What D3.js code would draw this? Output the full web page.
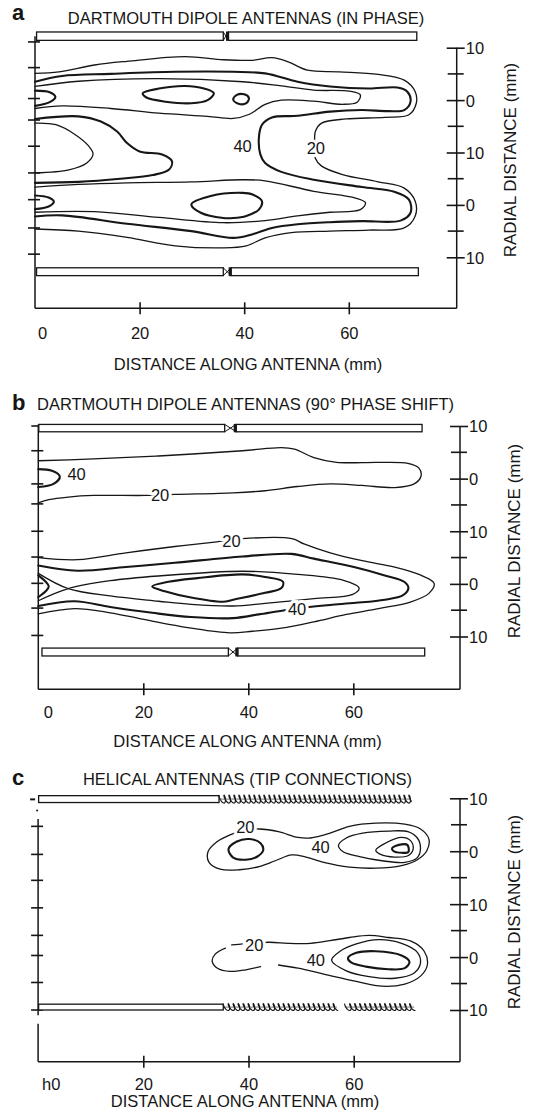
<!DOCTYPE html>
<html>
<head>
<meta charset="utf-8">
<script src="https://cdn.jsdelivr.net/npm/d3@7"></script>
<style>
  body { margin: 0; background: #fff; }
  svg { display: block; font-family: "Liberation Sans", Arial, Helvetica, sans-serif; }
</style>
</head>
<body>
<svg id="fig" width="538" height="1116"></svg>
<script>
// axis ticks
const xTickValues = [0, 20, 40, 60];
const xTickTextAB = ["0", "20", "40", "60"];
const xTickTextC = ["h0", "20", "40", "60"];
const radialMajor = [0, 10, 20, 30, 40];
const radialText = ["10", "0", "10", "0", "10"];
const radialMinor = [5, 15, 25, 35];

// hand drawn ticks on the left edge (radial units, counted from the top "10")
const leftTicksA = [-1.1, 3.8, 9.7, 13.8, 18.8, 23.9, 29.0, 34.4, 39.4];
const leftTicksB = [0, 4.7, 11.0, 14.8, 20.0, 24.9, 29.9, 34.6, 39.8];
const leftTicksC = [5.3, 10.6, 15.5, 20.7, 25.9, 29.7, 34.8, 40];
const leftMarksC = [0.2, 2.3];   // stray dash and dot above the axis in panel c

// ---- panel a contours: [mm along antenna, radial position] ----
const a20 = [[0,4.9],[4.6,4.6],[11.4,3.3],[17.6,2.6],[28.7,1.7],[36.0,2.3],[41.6,2.4],[45.3,1.9],[48.4,2.7],[52.1,4.3],[58.2,4.6],[65.6,5.1],[70.6,6.2],[72.7,8.4],[72.9,10.6],[71.5,12.8],[66.9,13.3],[59.5,13.6],[54.8,14.4],[53.6,16.0],[53.5,18.6],[53.6,21.1],[54.8,22.6],[58.8,24.2],[65.6,25.6],[70.6,26.8],[72.7,29.3],[72.7,32.1],[70.6,34.4],[63.8,34.8],[56.4,35.0],[49.0,35.3],[44.0,36.3],[40.4,37.8],[36.0,38.2],[26.8,37.8],[17.6,36.2],[8.3,35.0],[0,34.6]];
const a40 = [[0,6.5],[5.2,5.4],[14.5,5.0],[26.8,4.6],[37.9,4.6],[44.0,4.9],[50.2,6.5],[56.4,7.4],[63.8,7.8],[69.3,7.6],[71.2,8.4],[71.8,10.3],[70.6,11.9],[67.5,12.1],[62.5,11.9],[56.4,12.2],[50.2,13.0],[45.3,13.3],[43.4,14.7],[42.8,17.3],[43.1,20.4],[44.0,22.0],[47.1,23.7],[53.3,25.2],[62.5,26.6],[68.7,27.5],[71.5,29.0],[71.8,31.5],[69.9,33.0],[62.5,33.1],[56.4,33.3],[50.2,33.7],[45.3,34.4],[41.6,35.6],[37.9,36.3],[29.9,35.0],[17.6,33.6],[5.2,32.0],[0,32.2]];
const a60Up = [[0,7.4],[8.3,6.4],[23.7,5.9],[39.7,6.5],[47.1,7.3],[53.3,8.1],[60.1,8.3],[62.2,9.0],[61.6,10.4],[58.8,10.8],[53.3,10.2],[47.1,10.0],[44.0,10.8],[41.0,12.7],[37.9,13.5],[33.0,13.1],[23.7,12.5],[14.5,11.6],[5.2,11.1],[0,11.6]];
const a60Low = [[0,26.6],[8.3,26.1],[17.6,25.8],[29.9,25.6],[39.7,25.2],[44.0,25.4],[53.3,27.4],[61.3,28.7],[63.2,29.6],[62.2,30.9],[56.4,31.4],[50.2,32.1],[44.0,33.0],[36.0,33.4],[23.7,32.4],[11.4,31.3],[0,31.4]];
const aIslandUp = [[20.6,8.7],[23.7,7.8],[28.7,7.3],[32.3,7.8],[34.2,8.7],[33.0,10.0],[29.9,10.6],[25.0,10.3],[21.3,9.5]];
const aIslandSmall = [[37.9,9.9],[38.6,9.0],[40.0,8.9],[40.9,9.6],[40.4,10.6],[38.9,10.7]];
const aIslandLow = [[29.9,29.9],[33.6,28.3],[39.7,27.7],[41.6,28.0],[43.4,29.3],[42.8,30.9],[40.4,32.1],[37.9,32.5],[36.0,32.5],[31.7,31.5]];
const aWedgeUp = [[0,8.2],[2.8,8.5],[3.9,9.4],[2.8,10.4],[0,11.1]];
const aWedgeLow = [[0,28.2],[2.6,28.6],[3.6,29.4],[2.6,30.3],[0,30.8]];
const aTongueOuter = [[0,13.6],[8.3,13.1],[12.6,14.1],[15.7,16.0],[17.6,18.2],[20.0,19.8],[24.3,20.4],[26.2,21.7],[25.6,23.3],[22.5,24.3],[16.3,25.0],[8.3,25.6],[0,25.8]];
const aTongueInner = [[0,14.4],[4.0,14.7],[7.7,16.6],[10.2,18.7],[11.1,20.3],[9.9,22.0],[6.5,23.3],[0,23.9]];
const aLabels = [["40", 39.7, 18.8], ["20", 53.7, 19.2]];

// ---- panel b contours ----
const b20Up = [[0,6.6],[9.4,6.3],[22.9,5.7],[38.9,4.7],[46.3,4.1],[48.8,4.4],[52.5,6.0],[56.8,6.9],[64.8,6.9],[70.4,7.1],[72.5,8.0],[72.9,9.5],[71.6,11.0],[67.9,11.7],[61.7,11.3],[55.6,11.0],[49.4,11.5],[43.2,12.3],[37.1,12.7],[26.0,13.0],[20.4,13.2],[10.6,13.2],[5.7,13.5],[2.0,14.0],[0,14.6]];
const bWedgeUp = [[0,8.2],[2.6,8.5],[4.1,9.6],[2.9,11.0],[0,11.6]];
const b20Low = [[0,25.0],[7.5,25.4],[16.7,24.1],[26.0,22.9],[34.0,22.0],[38.9,21.4],[48.3,21.4],[50.6,22.4],[55.6,24.1],[61.7,25.6],[67.9,26.8],[72.5,28.2],[75.4,29.9],[74.4,31.8],[71.0,33.4],[64.8,34.7],[58.7,35.8],[52.5,37.2],[46.3,38.4],[40.8,39.0],[36.5,39.3],[29.1,38.4],[19.8,36.7],[13.7,35.5],[6.9,34.7],[0,35.7]];
const b40Low = [[0,26.5],[7.5,27.5],[16.7,26.8],[26.0,26.0],[38.9,24.8],[48.2,24.3],[52.5,25.2],[60.5,26.9],[66.0,28.4],[69.7,29.6],[70.5,30.8],[69.4,32.2],[66.0,33.0],[60.5,33.6],[55.6,34.0],[51.6,34.4],[46.9,35.0],[42.0,35.8],[37.1,36.5],[29.1,36.3],[21.7,35.5],[13.7,34.4],[6.9,33.3],[0,34.2]];
const b60Low = [[0,28.0],[5.7,30.9],[13.7,32.3],[22.9,33.3],[29.1,33.9],[37.1,34.2],[43.2,33.7],[52.5,32.8],[59.9,32.0],[61.1,30.8],[58.0,29.3],[49.4,28.2],[38.9,27.6],[22.9,28.5],[13.7,29.4],[5.7,30.9],[0,33.2]];
const bIslandLow = [[21.7,30.5],[24.8,29.6],[30.3,28.9],[38.9,28.2],[43.2,28.7],[46.6,29.6],[46.3,30.8],[43.2,31.7],[37.1,33.0],[35.2,33.4],[29.1,32.6],[24.1,31.4]];
const bWedgeLow = [[0,28.4],[1.4,29.6],[2.0,30.5],[1.4,31.4],[0,32.5]];
const bLabels = [["40", 7.3, 9.1], ["20", 23.2, 13.2], ["20", 36.8, 21.8], ["40", 49.3, 34.7]];

// ---- panel c contours ----
const c20Up = [[42.0,5.8],[45.7,6.3],[49.4,7.4],[51.8,7.5],[55.5,6.6],[59.2,5.3],[64.2,4.7],[69.7,4.9],[72.7,5.8],[74.3,7.7],[73.9,9.9],[72.1,11.6],[69.1,12.7],[64.2,13.2],[59.2,13.0],[54.3,12.1],[50.6,11.0],[48.2,10.7],[45.1,11.8],[42.0,12.9],[38.3,13.5],[34.6,13.4],[32.5,12.1],[32.3,10.1],[34.0,8.2],[36.5,6.9],[39.3,6.0]];
const cIslandUp = [[36.2,9.6],[37.7,8.2],[40.2,7.7],[42.3,8.5],[42.8,9.8],[41.7,11.0],[39.5,11.6],[37.1,11.2]];
const c40Up = [[57.1,8.9],[58.6,7.5],[61.7,6.6],[66.6,6.2],[70.3,6.3],[72.1,7.5],[72.7,9.4],[72.1,11.2],[69.7,12.1],[65.4,11.8],[61.1,11.0],[58.0,10.1]];
const c60Up = [[64.2,9.8],[66.0,8.5],[69.1,7.4],[70.8,8.0],[71.3,9.6],[70.4,10.8],[67.8,11.1],[65.1,10.6]];
const c80Up = [[67.3,9.4],[69.1,8.7],[70.2,8.8],[70.4,10.1],[69.1,10.3],[67.5,9.9]];
const c20LowA = [[35.6,28.3],[33.7,29.4],[33.1,30.8],[34.1,32.1],[36.5,32.7],[39.5,32.4],[42.3,31.8]];
const c20LowB = [[36.8,27.7],[43.9,27.2],[47.5,27.4],[51.8,27.4],[55.5,26.9],[59.2,26.3],[62.9,25.9],[66.6,26.3],[70.9,27.0],[73.4,28.9],[74.0,31.5],[72.7,33.6],[69.7,35.1],[65.4,35.5],[60.5,34.6],[54.3,33.2],[49.4,32.1],[45.7,31.5]];
const c40Low = [[55.8,30.6],[57.4,28.9],[60.5,27.5],[64.8,26.7],[69.1,27.4],[72.1,29.1],[72.7,31.1],[71.5,33.0],[67.8,34.0],[62.9,33.7],[58.6,32.6]];
const c60Low = [[58.9,30.2],[60.5,29.2],[64.2,28.9],[69.1,29.7],[70.6,30.9],[69.7,32.1],[66.6,32.3],[62.3,31.8],[59.5,31.0]];
const cLabels = [["20", 39.4, 5.5], ["40", 53.7, 9.3], ["20", 41.1, 27.7], ["40", 52.8, 30.6]];

// ---- antennas: [start mm, end mm] pieces and radial extent ----
const aAntennaTop = [[0.3, 36.0], [37.0, 73.0]];
const aAntennaTopR = [-3.0, -1.4];
const aAntennaBot = [[0.3, 36.0], [37.5, 73.3]];
const aAntennaBotR = [42.0, 43.5];
const bAntennaTop = [[0.1, 35.5], [37.7, 73.1]];
const bAntennaTopR = [-0.3, 1.1];
const bAntennaBot = [[0.7, 36.2], [38.0, 73.6]];
const bAntennaBotR = [42.2, 43.7];
const cAntennaTopRod = [0.1, 34.4];
const cAntennaTopHelix = [[34.4, 70.9]];
const cAntennaTopR = [-0.5, 0.8];
const cAntennaBotRod = [0.1, 35.2];
const cAntennaBotHelix = [[35.2, 56.8], [58.3, 71.5]];
const cAntennaBotR = [38.9, 40.0];

const ink = "#161616";
const fs = 16.5;
const svg = d3.select("#fig");

function drawPanel(p) {
  const x = d3.scaleLinear().domain([0, 80]).range([p.x0, p.x80]);
  const y = d3.scaleLinear().domain([0, 40]).range([p.y0, p.y40]);
  const g = svg.append("g");
  const openLine = d3.line().x(d => x(d[0])).y(d => y(d[1])).curve(d3.curveCatmullRom.alpha(0.5));
  const closedLine = d3.line().x(d => x(d[0])).y(d => y(d[1])).curve(d3.curveCatmullRomClosed.alpha(0.5));

  // panel letter and title
  g.append("text").attr("x", 12).attr("y", p.letterY)
    .attr("font-size", 22).attr("font-weight", "bold").attr("fill", ink).text(p.letter);
  g.append("text").attr("x", p.titleX).attr("y", p.titleY).attr("text-anchor", p.titleAnchor)
    .attr("font-size", fs).attr("fill", ink).text(p.title);

  // left edge
  p.leftAxis.forEach(s => {
    g.append("line").attr("x1", x(0)).attr("x2", x(0))
      .attr("y1", y(s[0])).attr("y2", s[1] === null ? p.bottomY : y(s[1]))
      .attr("stroke", ink).attr("stroke-width", 1.5);
  });
  g.selectAll("line.lt").data(p.leftTicks).join("line").attr("class", "lt")
    .attr("x1", x(0) - 7).attr("x2", x(0) + 5)
    .attr("y1", d => y(d)).attr("y2", d => y(d))
    .attr("stroke", ink).attr("stroke-width", 1.6);
  if (p.leftMarks) {
    g.append("line").attr("x1", x(0) - 8).attr("x2", x(0) - 3)
      .attr("y1", y(p.leftMarks[0])).attr("y2", y(p.leftMarks[0]))
      .attr("stroke", ink).attr("stroke-width", 2);
    g.append("circle").attr("cx", x(0) - 1).attr("cy", y(p.leftMarks[1])).attr("r", 1).attr("fill", ink);
  }

  // bottom axis
  g.append("line").attr("x1", x(0)).attr("x2", p.rightX)
    .attr("y1", p.bottomY).attr("y2", p.bottomY).attr("stroke", ink).attr("stroke-width", 1.5);
  const bx = g.append("g").attr("transform", `translate(0,${p.bottomY})`)
    .call(d3.axisBottom(x).tickValues(xTickValues).tickFormat((d, i) => p.xText[i]));
  bx.attr("font-family", null).attr("font-size", null);
  bx.select(".domain").remove();
  bx.selectAll(".tick line").attr("y1", -6).attr("y2", 6).attr("stroke", ink).attr("stroke-width", 1.6)
    .attr("display", d => d === 0 ? "none" : null);
  bx.selectAll(".tick text").attr("y", p.tickTextDy).attr("dy", null)
    .attr("font-size", fs).attr("fill", ink);
  bx.selectAll(".tick text").filter(d => d === 0).attr("text-anchor", "start").attr("x", p.zeroShift);

  // right radial axis
  g.append("line").attr("x1", p.rightX).attr("x2", p.rightX)
    .attr("y1", y(0)).attr("y2", p.bottomY).attr("stroke", ink).attr("stroke-width", 1.5);
  const ra = g.append("g").attr("transform", `translate(${p.rightX},0)`)
    .call(d3.axisRight(y).tickValues(radialMajor).tickFormat((d, i) => radialText[i]));
  ra.attr("font-family", null).attr("font-size", null);
  ra.select(".domain").remove();
  ra.selectAll(".tick line").attr("x1", -10).attr("x2", 8).attr("stroke", ink).attr("stroke-width", 1.6);
  ra.selectAll(".tick text").attr("x", 9).attr("dy", "0.36em").attr("font-size", fs).attr("fill", ink);
  g.selectAll("line.rm").data(radialMinor).join("line").attr("class", "rm")
    .attr("x1", p.rightX - 9).attr("x2", p.rightX + 7)
    .attr("y1", d => y(d)).attr("y2", d => y(d))
    .attr("stroke", ink).attr("stroke-width", 1.6);
  g.append("text")
    .attr("transform", `translate(${p.radialX},${p.radialY}) rotate(-90)`)
    .attr("text-anchor", "middle").attr("font-size", 17).attr("fill", ink)
    .text("RADIAL DISTANCE (mm)");

  // axis title
  g.append("text").attr("x", p.axisTitleX).attr("y", p.axisTitleY).attr("text-anchor", "middle")
    .attr("font-size", fs).attr("fill", ink).text("DISTANCE ALONG ANTENNA (mm)");

  // antennas
  p.rods.forEach(a => {
    a.pieces.forEach(s => {
      g.append("rect").attr("x", x(s[0])).attr("y", y(a.r[0]))
        .attr("width", x(s[1]) - x(s[0])).attr("height", y(a.r[1]) - y(a.r[0]))
        .attr("fill", "#fff").attr("stroke", ink).attr("stroke-width", 1.3);
    });
    if (a.pieces.length === 2) {
      const gx0 = x(a.pieces[0][1]), gx1 = x(a.pieces[1][0]);
      g.append("line").attr("x1", gx0).attr("x2", gx1).attr("y1", y(a.r[0])).attr("y2", y(a.r[1]))
        .attr("stroke", ink).attr("stroke-width", 1);
      g.append("line").attr("x1", gx0).attr("x2", gx1).attr("y1", y(a.r[1])).attr("y2", y(a.r[0]))
        .attr("stroke", ink).attr("stroke-width", 1);
      g.append("rect").attr("x", gx1 - 2.5).attr("y", y(a.r[0]) - 0.5)
        .attr("width", 3).attr("height", y(a.r[1]) - y(a.r[0]) + 1).attr("fill", ink);
    }
  });
  p.helices.forEach(h => {
    const yc = (y(h.r[0]) + y(h.r[1])) / 2, amp = (y(h.r[1]) - y(h.r[0])) / 2 + 0.5;
    h.pieces.forEach(s => {
      const xs = x(s[0]), xe = x(s[1]);
      const pitch = 5.0, a = pitch / (2 * Math.PI);
      const pts = [];
      for (let t = 0; a * t - 1.4 * Math.sin(t) <= xe - xs - 1; t += 0.2) {
        pts.push([xs + a * t - 1.4 * Math.sin(t) - 1.2 * Math.cos(t) + 1.2, yc - amp * Math.cos(t)]);
      }
      g.append("path").attr("d", d3.line()(pts)).attr("fill", "none")
        .attr("stroke", ink).attr("stroke-width", 1.2);
      g.append("line").attr("x1", xs).attr("x2", xe).attr("y1", yc).attr("y2", yc)
        .attr("stroke", ink).attr("stroke-width", 0.6);
    });
  });

  // contours
  g.selectAll("path.ct").data(p.contours).join("path").attr("class", "ct")
    .attr("d", c => (c.closed ? closedLine : openLine)(c.pts))
    .attr("fill", "none").attr("stroke", ink)
    .attr("stroke-width", c => c.thick ? 2.1 : 1.3)
    .attr("stroke-linejoin", "round").attr("stroke-linecap", "round");

  // contour labels with white halo
  g.selectAll("text.cl").data(p.labels).join("text").attr("class", "cl")
    .attr("x", d => x(d[1])).attr("y", d => y(d[2])).attr("dy", "0.36em")
    .attr("text-anchor", "middle").attr("font-size", fs).attr("fill", ink)
    .attr("stroke", "#fff").attr("stroke-width", 6).attr("paint-order", "stroke")
    .text(d => d[0]);
}

drawPanel({
  letter: "a", letterY: 20,
  title: "DARTMOUTH DIPOLE ANTENNAS (IN PHASE)", titleX: 246, titleY: 24, titleAnchor: "middle",
  x0: 35, x80: 453.4, y0: 47.7, y40: 257.3, rightX: 456.7, bottomY: 308.3,
  leftAxis: [[-2.2, null]], leftTicks: leftTicksA,
  xText: xTickTextAB, tickTextDy: 30.5, zeroShift: 2.5,
  radialX: 516, radialY: 160, axisTitleX: 248, axisTitleY: 370,
  rods: [{ pieces: aAntennaTop, r: aAntennaTopR }, { pieces: aAntennaBot, r: aAntennaBotR }],
  helices: [],
  contours: [
    { pts: a20, thick: false }, { pts: a40, thick: true },
    { pts: a60Up, thick: false }, { pts: a60Low, thick: false },
    { pts: aIslandUp, thick: true, closed: true }, { pts: aIslandSmall, thick: true, closed: true },
    { pts: aIslandLow, thick: true, closed: true },
    { pts: aWedgeUp, thick: true }, { pts: aWedgeLow, thick: true },
    { pts: aTongueOuter, thick: true }, { pts: aTongueInner, thick: false }
  ],
  labels: aLabels
});

drawPanel({
  letter: "b", letterY: 410,
  title: "DARTMOUTH DIPOLE ANTENNAS (90\u00B0 PHASE SHIFT)", titleX: 37, titleY: 410, titleAnchor: "start",
  x0: 38.3, x80: 458.3, y0: 426, y40: 636.5, rightX: 460, bottomY: 689.3,
  leftAxis: [[-0.3, null]], leftTicks: leftTicksB,
  xText: xTickTextAB, tickTextDy: 29, zeroShift: 5,
  radialX: 520, radialY: 541, axisTitleX: 247.5, axisTitleY: 747,
  rods: [{ pieces: bAntennaTop, r: bAntennaTopR }, { pieces: bAntennaBot, r: bAntennaBotR }],
  helices: [],
  contours: [
    { pts: b20Up, thick: false }, { pts: bWedgeUp, thick: true },
    { pts: b20Low, thick: false }, { pts: b40Low, thick: true },
    { pts: b60Low, thick: false }, { pts: bIslandLow, thick: true, closed: true },
    { pts: bWedgeLow, thick: true }
  ],
  labels: bLabels
});

drawPanel({
  letter: "c", letterY: 785,
  title: "HELICAL ANTENNAS (TIP CONNECTIONS)", titleX: 247.5, titleY: 785, titleAnchor: "middle",
  x0: 38.1, x80: 458.9, y0: 798.3, y40: 1010, rightX: 460, bottomY: 1061.7,
  leftAxis: [[3.9, 41.0], [42.6, null]], leftTicks: leftTicksC, leftMarks: leftMarksC,
  xText: xTickTextC, tickTextDy: 28, zeroShift: 3.5,
  radialX: 520, radialY: 912, axisTitleX: 245, axisTitleY: 1107,
  rods: [{ pieces: [cAntennaTopRod], r: cAntennaTopR }, { pieces: [cAntennaBotRod], r: cAntennaBotR }],
  helices: [{ pieces: cAntennaTopHelix, r: cAntennaTopR }, { pieces: cAntennaBotHelix, r: cAntennaBotR }],
  contours: [
    { pts: c20Up, thick: false, closed: true }, { pts: cIslandUp, thick: true, closed: true },
    { pts: c40Up, thick: false, closed: true }, { pts: c60Up, thick: false, closed: true },
    { pts: c80Up, thick: true, closed: true },
    { pts: c20LowA, thick: false }, { pts: c20LowB, thick: false },
    { pts: c40Low, thick: false, closed: true }, { pts: c60Low, thick: true, closed: true }
  ],
  labels: cLabels
});
</script>
</body>
</html>
